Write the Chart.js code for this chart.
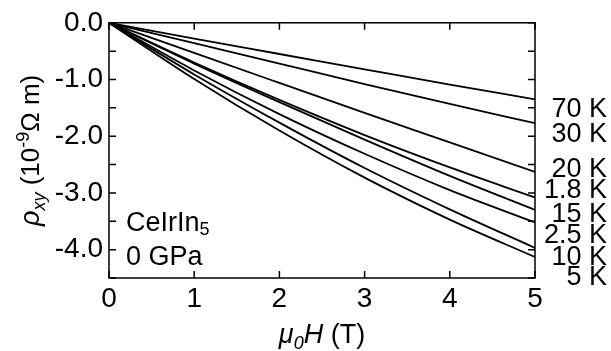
<!DOCTYPE html>
<html>
<head>
<meta charset="utf-8">
<script src="https://cdn.jsdelivr.net/npm/chart.js@4/dist/chart.umd.min.js"></script>
<style>
  html, body { margin: 0; padding: 0; background: #fff; }
  #wrap { width: 611px; height: 351px; }
</style>
</head>
<body>
<div id="wrap"><canvas id="myChart" width="611" height="351"></canvas></div>
<script>
// field values (T) and rho_xy (10^-9 ohm m)
const fieldT = [0, 1, 2, 3, 4, 5];
const temps = ["70 K", "30 K", "20 K", "1.8 K", "15 K", "2.5 K", "10 K", "5 K"];
const rho70K  = [0, -0.28, -0.55, -0.82, -1.09, -1.35];
const rho30K  = [0, -0.36, -0.72, -1.08, -1.43, -1.77];
const rho20K  = [0, -0.53, -1.06, -1.59, -2.11, -2.63];
const rho1p8K = [0, -0.70, -1.36, -1.98, -2.55, -3.08];
const rho15K  = [0, -0.72, -1.40, -2.06, -2.70, -3.30];
const rho2p5K = [0, -0.84, -1.61, -2.31, -2.95, -3.52];
const rho10K  = [0, -0.91, -1.76, -2.56, -3.29, -3.97];
const rho5K   = [0, -0.99, -1.90, -2.73, -3.47, -4.13];
const xTicks = [0, 1, 2, 3, 4, 5];
const yTicks = [0, -1, -2, -3, -4];

const allSeries = [rho70K, rho30K, rho20K, rho1p8K, rho15K, rho2p5K, rho10K, rho5K];
const FONT = "'Liberation Sans', Arial, Helvetica, sans-serif";

// label baselines on the right side (pixels)
const labelBase = [117, 142, 177, 198, 222, 243, 265, 285];

function richText(ctx, parts, x, y, align) {
    // parts: [text, size, italic, dy]
    let total = 0;
    for (const p of parts) {
        ctx.font = (p[2] ? "italic " : "") + p[1] + "px " + FONT;
        total += ctx.measureText(p[0]).width;
    }
    let cx = align === "center" ? x - total / 2 : x;
    ctx.textAlign = "left";
    ctx.textBaseline = "alphabetic";
    for (const p of parts) {
        ctx.font = (p[2] ? "italic " : "") + p[1] + "px " + FONT;
        ctx.fillText(p[0], cx, y + p[3]);
        cx += ctx.measureText(p[0]).width;
    }
}

const framePlugin = {
    id: "frame",
    afterDraw(chart) {
        const ctx = chart.ctx;
        const a = chart.chartArea;
        const xs = chart.scales.x;
        const ys = chart.scales.y;
        ctx.save();
        ctx.strokeStyle = "#000";
        ctx.lineWidth = 1.5;
        ctx.strokeRect(a.left, a.top, a.right - a.left, a.bottom - a.top);
        // inward ticks
        ctx.beginPath();
        for (const v of xTicks) {
            const px = xs.getPixelForValue(v);
            ctx.moveTo(px, a.bottom); ctx.lineTo(px, a.bottom - 7);
            ctx.moveTo(px, a.top); ctx.lineTo(px, a.top + 7);
        }
        for (let v = 0; v >= -4.5; v -= 0.5) {
            const py = ys.getPixelForValue(v);
            ctx.moveTo(a.left, py); ctx.lineTo(a.left + 7, py);
            ctx.moveTo(a.right, py); ctx.lineTo(a.right - 7, py);
        }
        ctx.stroke();

        ctx.fillStyle = "#000";
        // x title
        richText(ctx, [["\u03bc", 27, true, 0], ["0", 18, true, 6], ["H", 27, true, 0], [" (T)", 27, false, 0]],
            (a.left + a.right) / 2, 343, "center");
        // y title
        ctx.save();
        ctx.translate(39, (a.top + a.bottom) / 2);
        ctx.rotate(-Math.PI / 2);
        richText(ctx, [["\u03c1", 27, true, 0], ["xy", 18, true, 6], [" (10", 26, false, 0], ["-9", 18, false, -10], ["\u03a9 m)", 26, false, 0]],
            0, 0, "center");
        ctx.restore();
        // sample annotation
        richText(ctx, [["CeIrIn", 27, false, 0], ["5", 18, false, 4]], 126, 231, "left");
        richText(ctx, [["0 GPa", 27, false, 0]], 126, 265, "left");
        // temperature labels
        ctx.font = "27px " + FONT;
        ctx.textAlign = "right";
        ctx.textBaseline = "alphabetic";
        temps.forEach((t, i) => ctx.fillText(t, 607, labelBase[i]));
        ctx.restore();
    }
};

const ctx = document.getElementById("myChart").getContext("2d");
const myChart = new Chart(ctx, {
    type: "line",
    data: {
        datasets: allSeries.map((s, i) => ({
            label: temps[i],
            data: fieldT.map((x, j) => ({ x: x, y: s[j] })),
            borderColor: "#000",
            borderWidth: 1.8,
            pointRadius: 0,
            fill: false,
            cubicInterpolationMode: "monotone",
        })),
    },
    options: {
        responsive: false,
        animation: false,
        layout: { padding: { top: 22, right: 76, left: 0, bottom: 0 } },
        plugins: { legend: { display: false }, tooltip: { enabled: false } },
        scales: {
            x: {
                type: "linear",
                min: 0,
                max: 5,
                afterBuildTicks: (s) => { s.ticks = xTicks.map(v => ({ value: v })); },
                afterFit: (s) => { s.height = 73; },
                grid: { display: false, drawTicks: false },
                border: { display: false },
                ticks: { color: "#000", font: { family: FONT, size: 28 }, padding: 4, maxRotation: 0 },
            },
            y: {
                type: "linear",
                min: -4.5,
                max: 0,
                afterBuildTicks: (s) => { s.ticks = yTicks.map(v => ({ value: v })); },
                afterFit: (s) => { s.width = 109; },
                grid: { display: false, drawTicks: false },
                border: { display: false },
                ticks: {
                    color: "#000",
                    font: { family: FONT, size: 28 },
                    padding: 6,
                    callback: (v) => Number(v).toFixed(1),
                },
            },
        },
    },
    plugins: [framePlugin],
});
</script>
</body>
</html>
